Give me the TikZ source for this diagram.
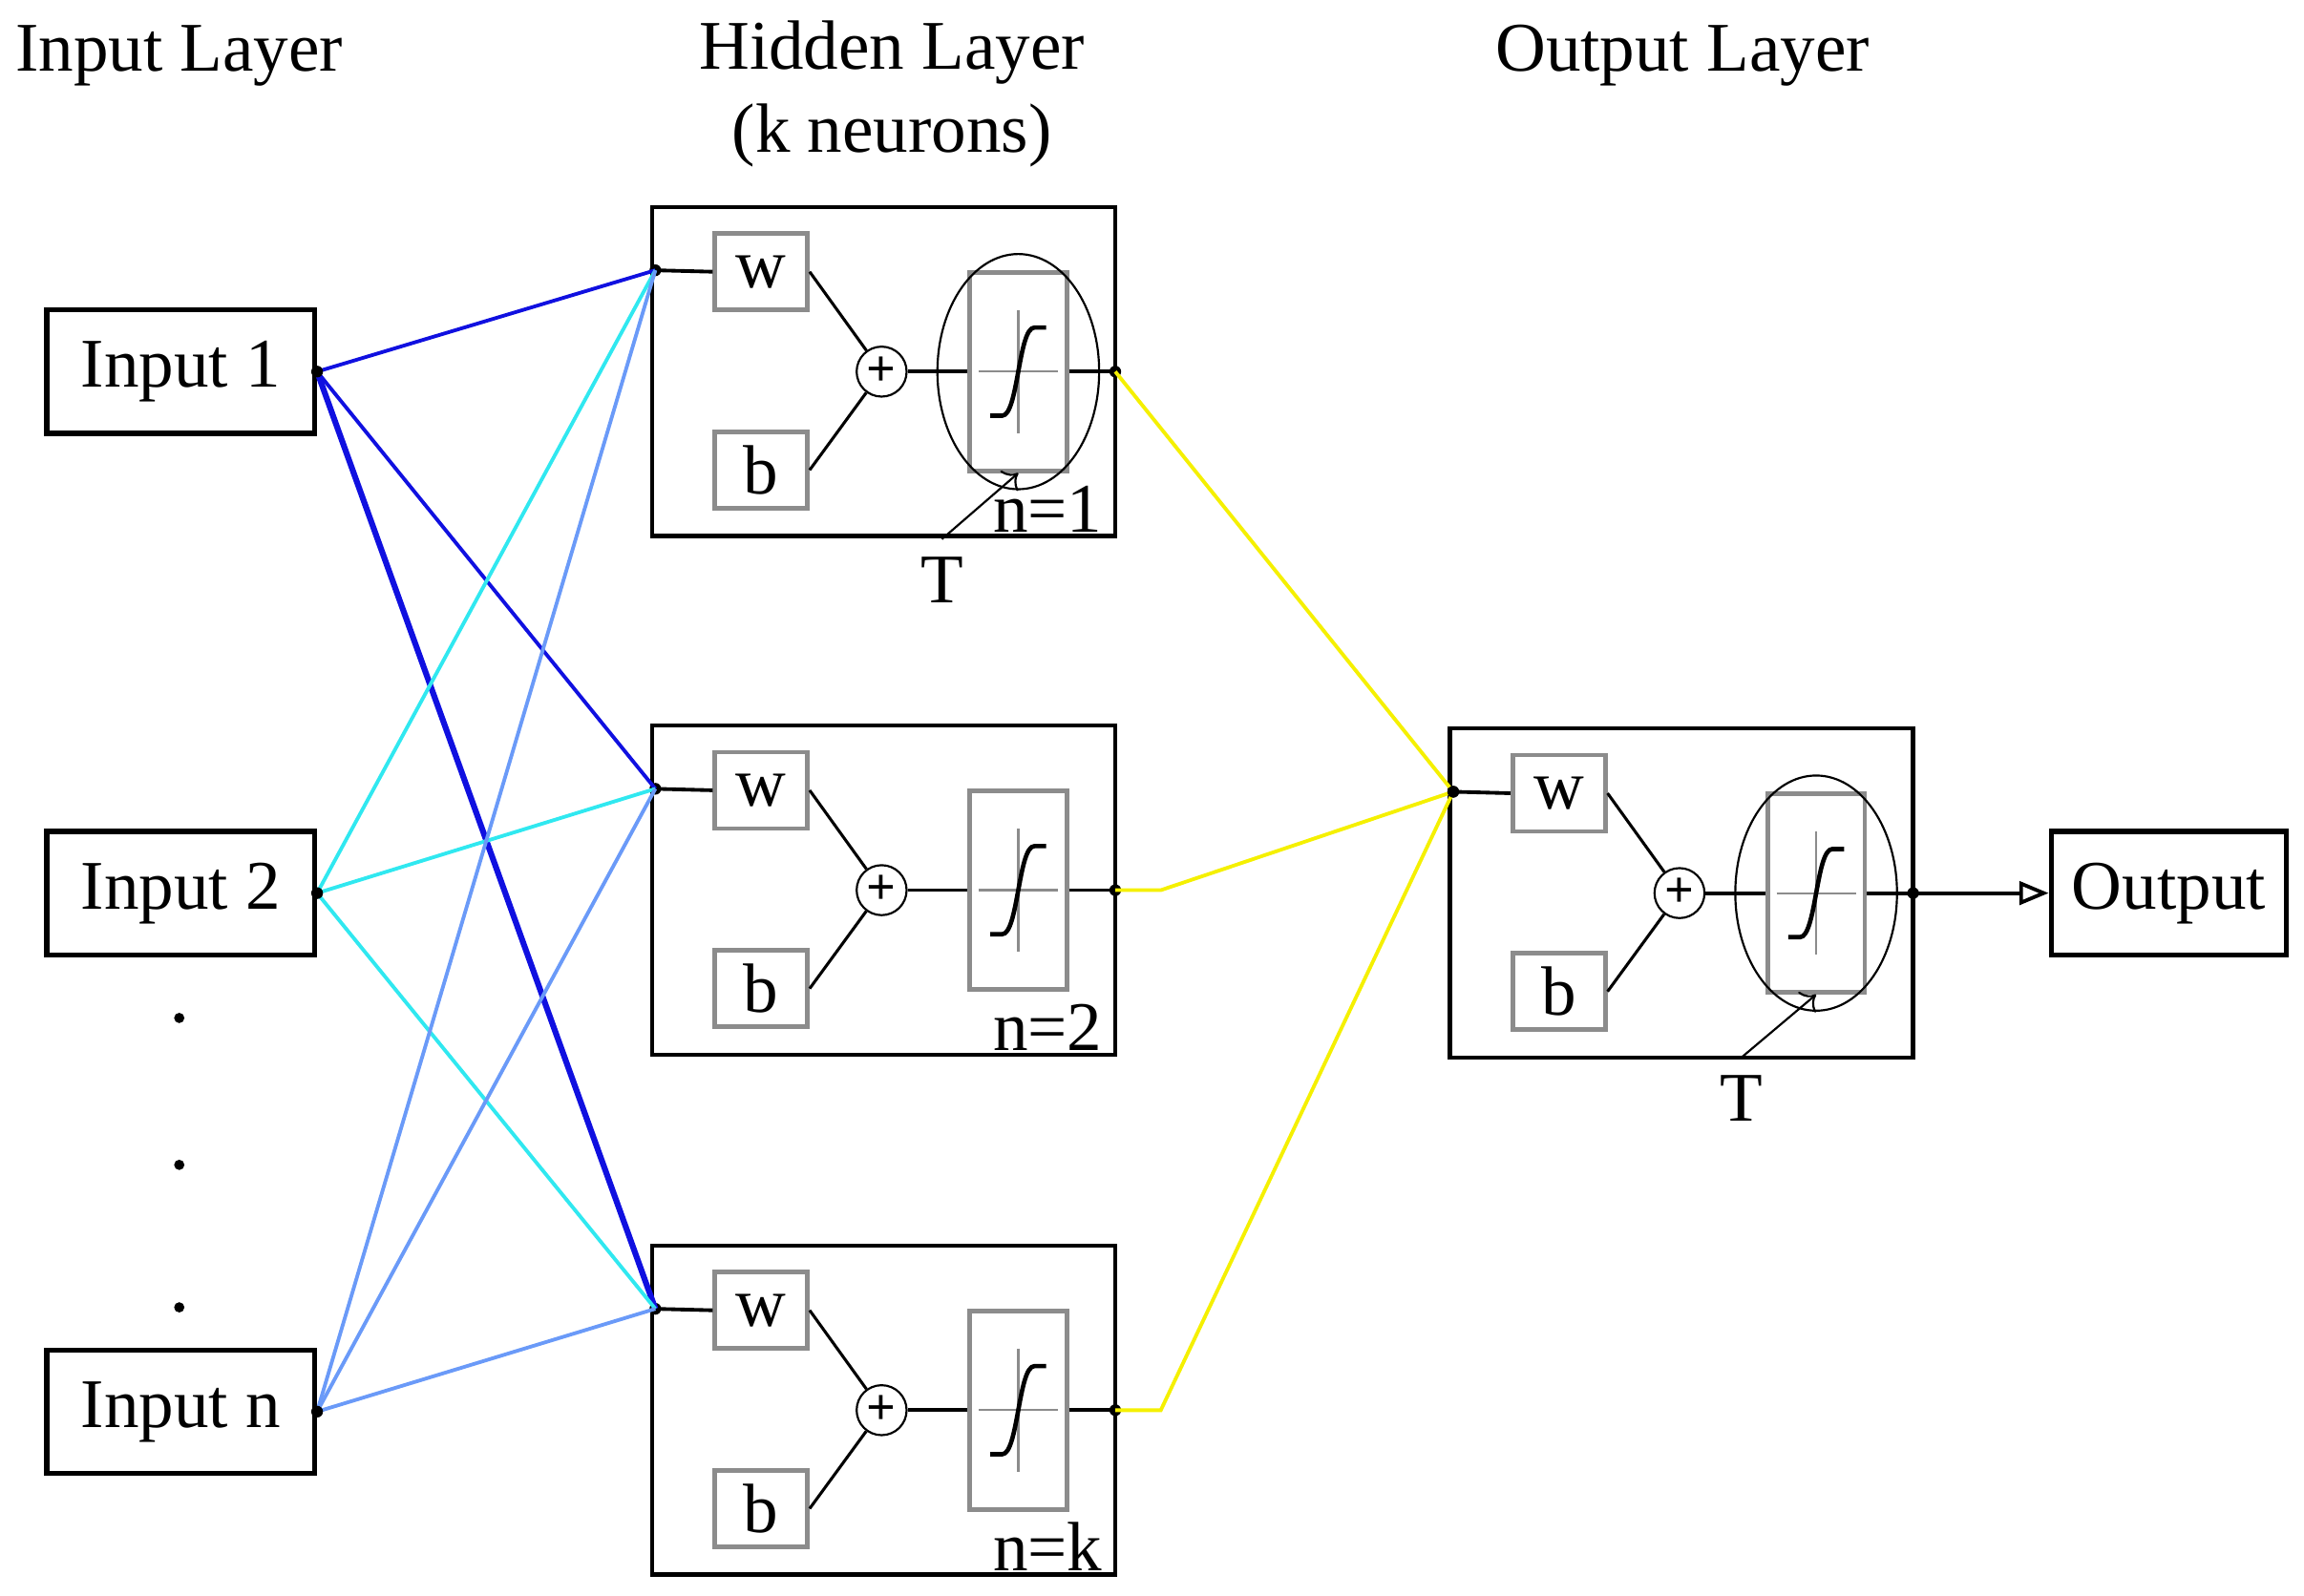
\documentclass[tikz,border=0pt]{standalone}
\usepackage{fontspec}
\setmainfont{Liberation Serif}
\usetikzlibrary{positioning, arrows.meta, calc}
\definecolor{DeepBlue}{HTML}{1010E0}
\definecolor{Cyan}{HTML}{30E8F0}
\definecolor{SoftBlue}{HTML}{6A9AF8}
\definecolor{Yellow}{HTML}{F5F000}
\definecolor{Gray}{HTML}{8C8C8C}

% one neuron: name, x, y, label, ellipse (1/0)
\newcommand{\neuron}[5]{%
  \begin{scope}[shift={(#2,#3)}]
    \node[cellBox] (#1) at (157.5,112) {};
    \node[partBox] (#1w) at (74,44) {w};
    \node[partBox] (#1b) at (74,179) {b};
    \node[sumNode] (#1s) at (156,112) {};
    \node[partBox, minimum width=0.66cm, minimum height=1.35cm] (#1f) at (249,112) {};
    \coordinate (#1in) at (2,43);
    \coordinate (#1out) at (315,112);
    \draw[Gray, thin] (249,70) -- (249,154) (222,112) -- (276,112);
    \draw[line width=0.03cm] (230,142) -- (238,142) .. controls (249,142) and (249,82) .. (260,82) -- (268,82);
    \draw[line width=0.025cm] (#1in) -- (#1w.west);
    \draw[line width=0.02cm] (#1w.east) -- (#1s) (#1b.east) -- (#1s);
    \draw[line width=0.025cm] (#1s) -- (#1f.west) (#1f.east) -- (#1out);
    \fill (#1in) circle (0.04cm) (#1out) circle (0.04cm);
    \ifnum#5=1 \draw[thin] (249,112) ellipse (0.55cm and 0.8cm); \fi
    \node[above left=-0.08cm and -0.02cm] at (#1.south east) {#4};
  \end{scope}}

\begin{document}
\begin{tikzpicture}[
    x=0.01cm, y=-0.01cm,
    font=\fontsize{13.5}{16}\selectfont,
    inBox/.style={draw, line width=0.035cm, minimum width=1.82cm, minimum height=0.84cm},
    cellBox/.style={draw, line width=0.03cm, minimum width=3.15cm, minimum height=2.24cm},
    partBox/.style={draw=Gray, line width=0.03cm, minimum width=0.63cm, minimum height=0.52cm, inner sep=0pt},
    sumNode/.style={draw, circle, thin, minimum size=0.34cm, inner sep=0pt},
    link/.style={line width=0.025cm},
  ]
  \useasboundingbox (0,0) rectangle (1568,1086);
  % titles
  \node (tIn) at (122,38) {Input Layer};
  \node[align=center] (tHid) at (607,64) {Hidden Layer\\(k neurons)};
  \node (tOut) at (1145,38) {Output Layer};
  % inputs
  \node[inBox] (in1) at (123,253) {Input 1};
  \node[inBox] (in2) at (123,608) {Input 2};
  \node[inBox] (inN) at (123,961) {Input n};
  \foreach \y in {693,793,890} \fill (122,\y) circle (0.035cm);
  % neurons
  \neuron{h1}{444}{141}{n=1}{1}
  \neuron{h2}{444}{494}{n=2}{0}
  \neuron{h3}{444}{848}{n=k}{0}
  \neuron{o}{987}{496}{}{1}
  \foreach \n in {h1s,h2s,h3s,os} \node[font=\bfseries] at (\n) {+};
  % input connections
  \foreach \h in {h1,h2} \draw[link, DeepBlue] (in1.east) -- (\h in);
  \draw[DeepBlue, line width=0.04cm] (in1.east) -- (h3in);
  \foreach \h in {h1,h2,h3} \draw[link, Cyan] (in2.east) -- (\h in);
  \foreach \h in {h1,h2,h3} \draw[link, SoftBlue] (inN.east) -- (\h in);
  \fill (in1.east) circle (0.04cm) (in2.east) circle (0.04cm) (inN.east) circle (0.04cm);
  % hidden to output
  \draw[link, Yellow] (h1out) -- (oin);
  \draw[link, Yellow] (h2out) -- ++(31,0) -- (oin);
  \draw[link, Yellow] (h3out) -- ++(31,0) -- (oin);
  \fill (oin) circle (0.04cm);
  % output
  \node[inBox, minimum width=1.6cm] (out) at (1476,608) {Output};
  \draw[line width=0.025cm, -{Triangle[open, length=0.2cm, width=0.16cm]}] (oout) -- (out.west);
  % T labels
  \node (T1) at (641,395) {T};
  \node (T2) at (1185,748) {T};
  \draw[thin, ->] (T1.north) -- (h1f.south);
  \draw[thin, ->] (T2.north) -- (of.south);
\end{tikzpicture}
\end{document}
